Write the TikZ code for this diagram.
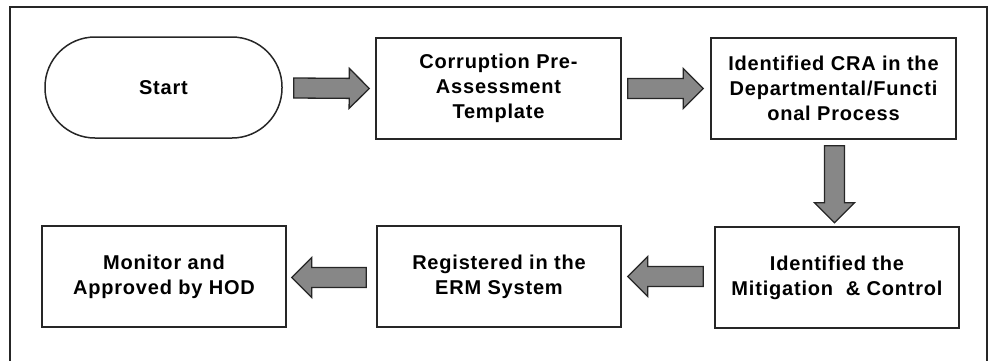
\documentclass[tikz,border=0pt]{standalone}
\usepackage{fontspec}
\setmainfont{Liberation Sans}[LetterSpace=4.0]
\usetikzlibrary{calc}
\begin{document}
\begin{tikzpicture}[x=1pt,y=-1pt,
  box/.style={draw=black!85, line width=1.5pt, fill=white, rectangle,
    minimum width=244pt, minimum height=101pt, inner sep=0pt,
    align=center, font=\fontsize{20}{25}\selectfont\bfseries},
  barrow/.style={draw=black!85, line width=1.3pt, fill={rgb,255:red,135;green,135;blue,135}, line join=miter,
    to path={let \p1=($(\tikztotarget)!20pt!(\tikztostart)$) in
      ($(\tikztostart)!10pt!90:(\tikztotarget)$)
      -- ($(\p1)!10pt!90:(\tikztotarget)$)
      -- ($(\p1)!20pt!90:(\tikztotarget)$)
      -- (\tikztotarget)
      -- ($(\p1)!20pt!-90:(\tikztotarget)$)
      -- ($(\p1)!10pt!-90:(\tikztotarget)$)
      -- ($(\tikztostart)!10pt!-90:(\tikztotarget)$) -- cycle}}
]
\useasboundingbox (0,0) rectangle (989,360);
\draw[line width=2pt, black!85] (10,361) -- (10,7) -- (987,7) -- (987,361);

\node[box, minimum width=237pt, rounded corners=50pt] (s) at (163.5,87.5) {\raisebox{-2pt}{Start}};
\node[box, minimum width=245pt] (b2) at (498.5,88.5) {Corruption Pre-\\Assessment\\Template};
\node[box, minimum width=245pt] (b3) at (833.5,88.5) {Identified CRA in the\\Departmental/Functi\\onal Process};
\node[box] (b4) at (837,277.5) {Identified the\\Mitigation \ \& Control};
\node[box] (b5) at (499,276.5) {Registered in the\\ERM System};
\node[box] (b6) at (164,276.5) {Monitor and\\Approved by HOD};

\coordinate (a1s) at ($(s.east)+(11,0.5)$);
\coordinate (a1t) at ($(b2.west)+(-6,0)$);
\coordinate (a2s) at ($(b2.east)+(6,0)$);
\coordinate (a2t) at ($(b3.west)+(-7,0)$);
\coordinate (a3s) at ($(b3.south)+(1,6)$);
\coordinate (a3t) at ($(b3.south)+(1,83)$);
\coordinate (a4s) at ($(b4.west)+(-11,-1)$);
\coordinate (a4t) at ($(b5.east)+(6,0)$);
\coordinate (a5s) at ($(b5.west)+(-10,1)$);
\coordinate (a5t) at ($(b6.east)+(5,1)$);

\draw[barrow] (a1s) to (a1t);
\draw[barrow] (a2s) to (a2t);
\draw[barrow] (a3s) to (a3t);
\draw[barrow] (a4s) to (a4t);
\draw[barrow] (a5s) to (a5t);
\end{tikzpicture}
\end{document}
